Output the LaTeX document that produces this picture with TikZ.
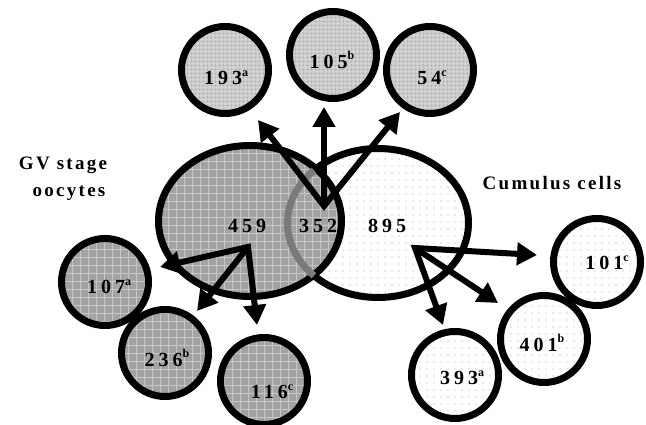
\documentclass[tikz,border=0pt]{standalone}
\usepackage{fontspec}
\setmainfont{Liberation Serif}
\usetikzlibrary{shapes.geometric, arrows.meta, patterns.meta}

\definecolor{oogray}{HTML}{A3A3A3}
\definecolor{oogrid}{HTML}{C6C6C6}
\definecolor{topgray}{HTML}{D2D2D2}
\definecolor{topgrid}{HTML}{B2B2B2}
\definecolor{dotgray}{HTML}{A8A8A8}
\definecolor{hidden}{HTML}{7A7A7A}

% count with a small raised letter
\newcommand\numlab[2]{#1\raisebox{0.42em}{\fontsize{12}{12}\selectfont #2}}

\tikzset{
  ring/.style={circle, draw=black, line width=7pt, minimum size=87pt, inner sep=0pt},
  oogrid fill/.style={preaction={fill=oogray}, pattern={Hatch[distance=8pt, line width=0.7pt]}, pattern color=oogrid},
  topgrid fill/.style={preaction={fill=topgray}, pattern={Hatch[distance=4pt, line width=0.5pt]}, pattern color=topgrid},
  dot fill/.style={preaction={fill=white}, pattern={Dots[distance=7pt, radius=0.6pt]}, pattern color=dotgray},
  oo/.style={ring, oogrid fill},
  topc/.style={ring, topgrid fill},
  cum/.style={ring, dot fill},
  big/.style={ellipse, draw=black, line width=7pt, inner sep=0pt},
  num/.style={font=\fontsize{20}{20}\selectfont\bfseries\addfontfeature{LetterSpace=20}, inner sep=0pt},
  grp/.style={font=\fontsize{19}{19}\selectfont\bfseries\addfontfeature{LetterSpace=12}, inner sep=0pt},
  tip/.style={line width=6pt, line join=miter},
  hd/.tip={Triangle[length=20pt, width=22pt]},
}

\begin{document}
\begin{tikzpicture}[x=1pt, y=1pt]
\useasboundingbox (0,0) rectangle (646,425);

% the two sets
\node[big, dot fill, minimum width=181pt, minimum height=149pt] (cc) at (378,202) {};
\node[big, oogrid fill, minimum width=183pt, minimum height=151pt] (gv) at (250,204) {};
% edge of the cumulus set showing through the oocyte set
\draw[hidden, line width=7pt] (cc.center) ++(135:90.5 and 74.5)
  arc[start angle=135, end angle=225, x radius=90.5, y radius=74.5];

\node[num] (n459) at (247,199) {459};
\node[num] (n352) at (318,199) {352};
\node[num] (n895) at (387,199) {895};

\node[grp] (gvt1) at (63,260) {GV stage};
\node[grp] (gvt2) at (69,232) {oocytes};
\node[grp] (cct)  at (552,242) {Cumulus cells};

% subsets
\node[topc] (c193) at (225,355) {};
\node[topc] (c105) at (333,370) {};
\node[topc] (c54)  at (430,355) {};
\node[oo]   (c107) at (105,143) {};
\node[oo]   (c236) at (165,72)  {};
\node[oo]   (c116) at (264,44)  {};
\node[cum]  (c101) at (597,163) {};
\node[cum]  (c401) at (544,86)  {};
\node[cum]  (c393) at (455,50)  {};

\node[num] (l193) at (226,347) {\numlab{193}{a}};
\node[num] (l105) at (332,365) {\numlab{105}{b}};
\node[num] (l54)  at (432,347) {\numlab{54}{c}};
\node[num] (l107) at (109,138) {\numlab{107}{a}};
\node[num] (l236) at (167,67)  {\numlab{236}{b}};
\node[num] (l116) at (272,33)  {\numlab{116}{c}};
\node[num] (l101) at (607,162) {\numlab{101}{c}};
\node[num] (l401) at (542,82)  {\numlab{401}{b}};
\node[num] (l393) at (462,47)  {\numlab{393}{a}};

% arrow origins and tips
\coordinate (o1) at (324,219);
\coordinate (t193) at (258,305);
\coordinate (t105) at (324,318);
\coordinate (t54)  at (400,313);
\coordinate (o2) at (248,178);
\coordinate (t107) at (160,158);
\coordinate (t236) at (197,114);
\coordinate (t116) at (257,100);
\coordinate (o3) at (415,177);
\coordinate (t101) at (537,170);
\coordinate (t401) at (498,122);
\coordinate (t393) at (443,100);

\draw[tip, hd-hd] (t193) -- (o1) -- (t54);
\draw[tip, -hd] (o1) -- (t105);
\draw[tip, hd-hd] (t107) -- (o2) -- (t116);
\draw[tip, -hd] (o2) -- (t236);
\draw[tip, hd-hd] (t101) -- (o3) -- (t393);
\draw[tip, -hd] (o3) -- (t401);
\end{tikzpicture}
\end{document}
